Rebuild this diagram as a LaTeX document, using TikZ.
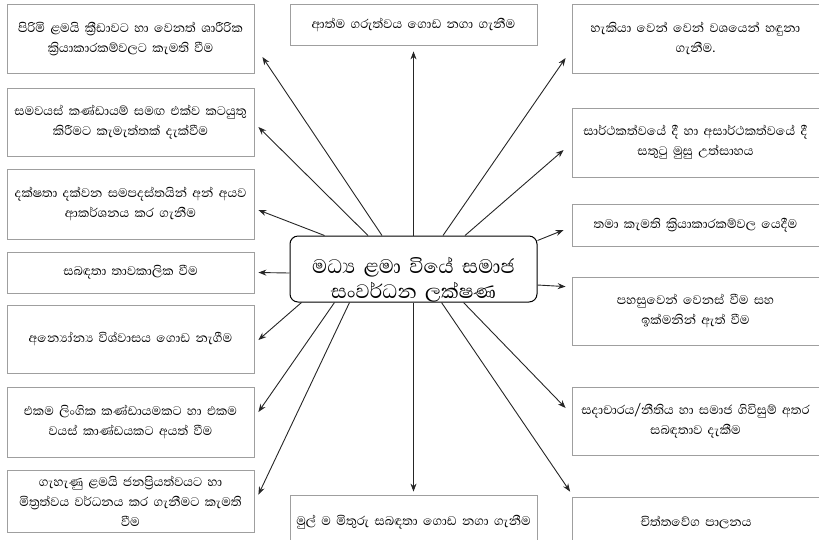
\documentclass[tikz,border=0pt]{standalone}
\usepackage{fontspec}
\newfontfamily\sinhala[Script=Sinhala]{Abhaya Libre}
\usetikzlibrary{arrows.meta}
\tikzset{
  kotuwa/.style={draw=gray!75, line width=0.8pt, minimum width=247pt, text width=247pt,
    align=center, inner sep=0pt, font=\sinhala\fontsize{16}{20}\selectfont},
  madhya/.style={draw=black, line width=1pt, rounded corners=8pt, minimum width=247pt,
    minimum height=66pt, inner sep=0pt},
  madhyapatha/.style={text width=247pt, align=center, inner sep=0pt,
    font=\sinhala\fontsize{25}{25}\selectfont},
  ira/.style={->, line width=0.9pt, draw=black!85}
}
\begin{document}
\begin{tikzpicture}[x=1pt,y=-1pt,>={Stealth[length=8pt,width=6pt]}]
\useasboundingbox (0,0) rectangle (819,539);
% centre
\node[madhya] (madhya) at (413.5,269) {};
\node[madhyapatha] (madhyapatha) at (413.5,279.5) {මධ්^^^^200dය ළමා වියේ සමාජ\\සංවර්ධන ලක්ෂණ};
\node[kotuwa,minimum height=41pt] (uda) at (413.5,24.5) {ආත්ම ගරුත්වය ගොඩ නගා ගැනීම};
\node[kotuwa,minimum height=54pt] (yata) at (413.5,522) {මුල් ම මිතුරු සබඳතා ගොඩ නගා ගැනීම};
% left column
\node[kotuwa,minimum height=69pt] (l1) at (130.5,38.5) {පිරිමි ළමයි ක්^^^^200dරීඩාවට හා වෙනත් ශාරීරික\\ක්^^^^200dරියාකාරකම්වලට කැමති වීම};
\node[kotuwa,minimum height=68pt] (l2) at (130.5,122) {සමවයස් කණ්ඩායම් සමඟ එක්ව කටයුතු\\කිරීමට කැමැත්තක් දැක්වීම};
\node[kotuwa,minimum height=70pt] (l3) at (130.5,204) {දක්ෂතා දක්වන සමපදස්තයින් අන් අයව\\ආකර්ශනය කර ගැනීම};
\node[kotuwa,minimum height=41pt] (l4) at (130.5,272.5) {සබඳතා තාවකාලික වීම};
\node[kotuwa,minimum height=68pt] (l5) at (130.5,339) {අන්^^^^200dයෝන්^^^^200dය විශ්වාසය ගොඩ නැගීම};
\node[kotuwa,minimum height=70pt] (l6) at (130.5,422) {එකම ලිංගික කණ්ඩායමකට හා එකම\\වයස් කාණ්ඩයකට අයත් වීම};
\node[kotuwa,minimum height=62pt] (l7) at (130.5,501) {ගැහැණු ළමයි ජනප්^^^^200dරියත්වයට හා\\මිත්^^^^200dරත්වය වර්ධනය කර ගැනීමට කැමති\\වීම};
% right column
\node[kotuwa,minimum height=69pt,minimum width=245pt] (r1) at (695.5,38.5) {හැකියා වෙන් වෙන් වශයෙන් හඳුනා\\ගැනීම.};
\node[kotuwa,minimum height=69pt,minimum width=245pt] (r2) at (695.5,142.5) {සාර්ථකත්වයේ දී හා අසාර්ථකත්වයේ දී\\සතුටු මුසු උත්සාහය};
\node[kotuwa,minimum height=42pt,minimum width=245pt] (r3) at (695.5,225) {තමා කැමති ක්^^^^200dරියාකාරකම්වල යෙදීම};
\node[kotuwa,minimum height=68pt,minimum width=245pt] (r4) at (695.5,311) {පහසුවෙන් වෙනස් වීම සහ\\ඉක්මනින් ඇත් වීම};
\node[kotuwa,minimum height=68pt,minimum width=245pt] (r5) at (695.5,421) {සදාචාරය/නීතිය හා සමාජ ගිවිසුම් අතර\\සබඳතාව දැකීම};
\node[kotuwa,minimum height=50pt,minimum width=244pt] (r6) at (696,522) {චිත්තවේග පාලනය};
% arrows
\draw[ira] (madhya.north) -- ([yshift=-6pt]uda.south);
\draw[ira] (madhya.south) -- ([yshift=3pt]yata.north);
\draw[ira] ([xshift=-31.5pt]madhya.north) -- ([xshift=8pt,yshift=-18.5pt]l1.east);
\draw[ira] ([xshift=-45.5pt]madhya.north) -- ([xshift=4pt,yshift=-5pt]l2.east);
\draw[ira] ([xshift=-89pt]madhya.north) -- ([xshift=4pt,yshift=-6pt]l3.east);
\draw[ira] ([yshift=-4pt]madhya.west) -- ([xshift=4pt]l4.east);
\draw[ira] ([xshift=12pt]madhya.south west) -- ([xshift=4pt,yshift=-1pt]l5.east);
\draw[ira] ([xshift=45pt]madhya.south west) -- ([xshift=4pt,yshift=10pt]l6.east);
\draw[ira] ([xshift=60pt]madhya.south west) -- ([xshift=4pt,yshift=-25pt]l7.north east);
\draw[ira] ([xshift=29.5pt]madhya.north) -- ([xshift=-6pt,yshift=-19.5pt]r1.west);
\draw[ira] ([xshift=51.5pt]madhya.north) -- ([xshift=-8pt,yshift=-7.5pt]r2.west);
\draw[ira] ([yshift=-5pt]madhya.north east) -- ([xshift=-8pt,yshift=-5pt]r3.west);
\draw[ira] ([yshift=-16pt]madhya.east) -- ([xshift=-6pt,yshift=-10pt]r4.north west);
\draw[ira] ([xshift=50pt]madhya.south) -- ([xshift=-6pt,yshift=13pt]r5.west);
\draw[ira] ([xshift=28pt]madhya.south) -- ([xshift=-2pt,yshift=5pt]r6.north west);
\end{tikzpicture}
\end{document}
